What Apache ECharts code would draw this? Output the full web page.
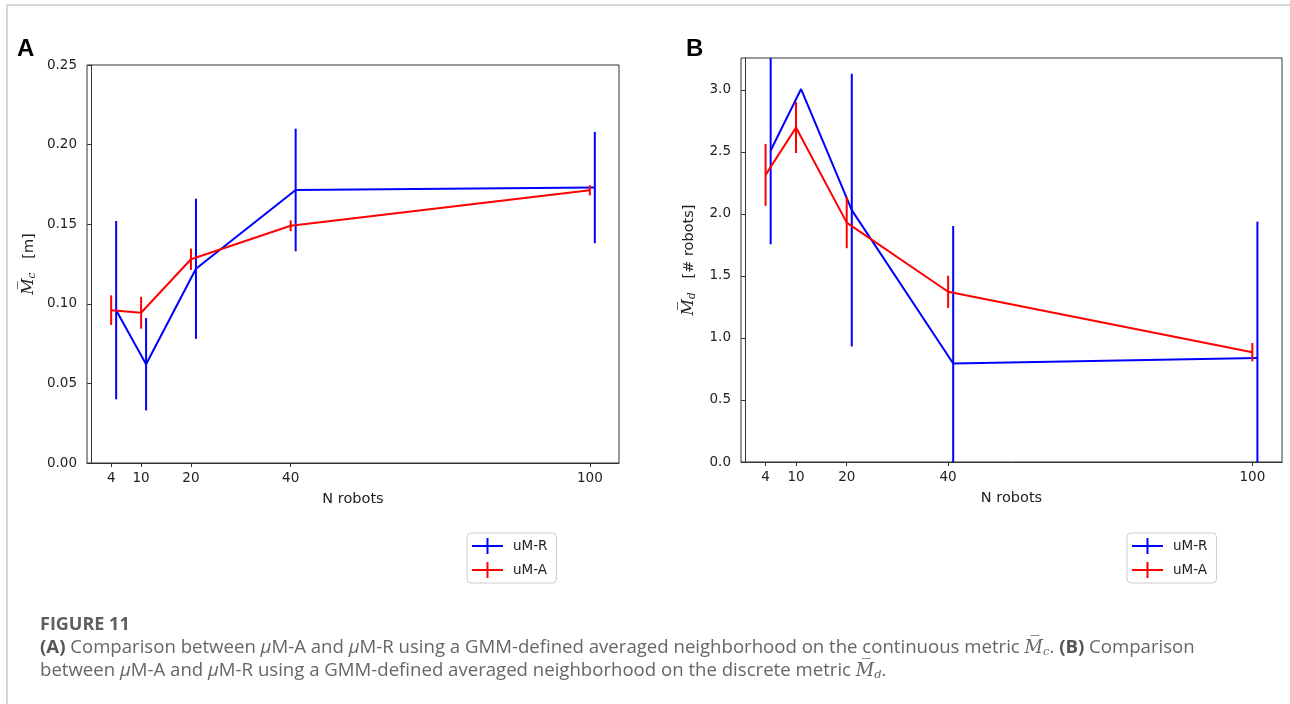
<!DOCTYPE html>
<html>
<head>
<meta charset="utf-8">
<script src="https://cdn.jsdelivr.net/npm/echarts@6/dist/echarts.min.js"></script>
<style>
html,body{margin:0;padding:0;background:#fff;}
#chart{width:1290px;height:704px;}
</style>
</head>
<body>
<div id="chart"></div>
<script>
// ---------- data ----------
const nRobots = [4, 10, 20, 40, 100];
const xTickLabels = [4, 10, 20, 40, 100];
const rOffset = 1; // uM-R points are drawn slightly right of the tick

// Panel A: continuous metric Mc [m]
const aRMean = [0.096, 0.062, 0.122, 0.1715, 0.173];
const aRErr  = [0.056, 0.029, 0.044, 0.0385, 0.035];
const aAMean = [0.096, 0.0944, 0.128, 0.149, 0.1713];
const aAErr  = [0.0093, 0.010, 0.0067, 0.0034, 0.0032];
const aYTicks = [0, 0.05, 0.10, 0.15, 0.20, 0.25];

// Panel B: discrete metric Md [# robots]
const bRMean = [2.51, 3.006, 2.03, 0.794, 0.839];
const bRErr  = [0.755, 0, 1.10, 1.108, 1.098];
const bAMean = [2.314, 2.696, 1.929, 1.372, 0.885];
const bAErr  = [0.25, 0.206, 0.206, 0.13, 0.074];
const bYTicks = [0, 0.5, 1.0, 1.5, 2.0, 2.5, 3.0];

const BLUE = '#0000ff', RED = '#ff0000';
const AX = '#333333', TXT = '#222222';
const FONT = 'DejaVu Sans';
const TICK_FS = 13.5, NAME_FS = 14.5;
const CAP_FS = 18.6;

function pts(means, off) { return means.map((m, i) => [nRobots[i] + off, m]); }
function errs(means, es, off) { return means.map((m, i) => [nRobots[i] + off, m, es[i]]); }

function errRender(color) {
  return function (params, api) {
    const x = api.value(0), m = api.value(1), e = api.value(2);
    if (!e) return null;
    const cs = params.coordSys;
    const p1 = api.coord([x, m - e]);
    const p2 = api.coord([x, m + e]);
    const yTop = cs.y, yBot = cs.y + cs.height;
    const y1 = Math.min(Math.max(p1[1], yTop), yBot);
    const y2 = Math.min(Math.max(p2[1], yTop), yBot);
    return {
      type: 'line',
      shape: { x1: p1[0], y1: y1, x2: p2[0], y2: y2 },
      style: { stroke: color, lineWidth: 2 }
    };
  };
}

const fmt = v => (v === 0 ? '0.00' : v.toFixed(2));
const fmt1 = v => v.toFixed(1);

function xAxisCfg(gi) {
  return {
    type: 'value', gridIndex: gi, min: -0.85, max: 105.85,
    name: 'N robots', nameLocation: 'middle', nameGap: 29,
    nameTextStyle: { fontFamily: FONT, fontSize: NAME_FS, color: TXT },
    axisLine: { show: true, lineStyle: { color: AX, width: 1 } },
    axisTick: { show: true, length: 4, lineStyle: { color: AX }, customValues: xTickLabels },
    axisLabel: { fontFamily: FONT, fontSize: TICK_FS, color: TXT, margin: 8, customValues: xTickLabels },
    splitLine: { show: false }
  };
}

const legendIconPath = 'path://M0,7h31v2h-31z M14.5,0h2v16h-2z';
function legendCfg(left) {
  return {
    orient: 'vertical', left: left, top: 533,
    padding: [5, 9, 5, 5], itemGap: 8, itemWidth: 31, itemHeight: 16,
    borderColor: '#cccccc', borderWidth: 1, borderRadius: 4,
    textStyle: { fontFamily: FONT, fontSize: TICK_FS, color: TXT, padding: [0, 0, 0, 5] },
    itemStyle: { borderWidth: 0 },
    selectedMode: false,
    data: [{ name: 'uM-R', icon: legendIconPath }, { name: 'uM-A', icon: legendIconPath }]
  };
}

const rich = {
  m: { fontFamily: 'DejaVu Serif', fontStyle: 'italic', fontSize: 16, color: TXT },
  s: { fontFamily: 'DejaVu Serif', fontStyle: 'italic', fontSize: 10.5, color: TXT, padding: [7, 0, 0, 0] },
  t: { fontFamily: FONT, fontSize: NAME_FS, color: TXT }
};

const capRich = {
  b: { fontFamily: 'Open Sans', fontWeight: 'bold', fontSize: CAP_FS, fill: '#555555' },
  i: { fontFamily: 'Open Sans', fontStyle: 'italic', fontSize: CAP_FS, fill: '#666666' },
  m: { fontFamily: 'DejaVu Serif', fontStyle: 'italic', fontSize: 18, fill: '#666666' },
  s: { fontFamily: 'DejaVu Serif', fontStyle: 'italic', fontSize: 11.5, fill: '#666666', padding: [8, 0, 0, 0] }
};

const option = {
  backgroundColor: '#ffffff',
  animation: false,
  grid: [
    { left: 87, top: 65, width: 532, height: 398, show: true, borderColor: AX, borderWidth: 1, backgroundColor: 'transparent' },
    { left: 741, top: 58, width: 541, height: 404, show: true, borderColor: AX, borderWidth: 1, backgroundColor: 'transparent' }
  ],
  xAxis: [xAxisCfg(0), xAxisCfg(1)],
  yAxis: [
    {
      type: 'value', gridIndex: 0, min: 0, max: 0.25, interval: 0.05,
      name: '{m|M\u0305}{s|c}{t|   [m]}', nameLocation: 'middle', nameGap: 49, nameRotate: 90,
      nameTextStyle: { rich: rich },
      axisLine: { show: true, lineStyle: { color: AX } },
      axisTick: { show: true, length: 4, lineStyle: { color: AX } },
      axisLabel: { fontFamily: FONT, fontSize: TICK_FS, color: TXT, margin: 10, formatter: fmt },
      splitLine: { show: false }
    },
    {
      type: 'value', gridIndex: 1, min: 0, max: 3.256,
      name: '{m|M\u0305}{s|d}{t|   [# robots]}', nameLocation: 'middle', nameGap: 43, nameRotate: 90,
      nameTextStyle: { rich: rich },
      axisLine: { show: true, lineStyle: { color: AX } },
      axisTick: { show: true, length: 4, lineStyle: { color: AX }, customValues: bYTicks },
      axisLabel: { fontFamily: FONT, fontSize: TICK_FS, color: TXT, margin: 10, formatter: fmt1, customValues: bYTicks },
      splitLine: { show: false }
    }
  ],
  legend: [legendCfg(467), legendCfg(1127)],
  series: [
    { name: 'uM-R', type: 'line', xAxisIndex: 0, yAxisIndex: 0, data: pts(aRMean, rOffset), symbol: 'none',
      lineStyle: { color: BLUE, width: 2 }, itemStyle: { color: BLUE }, z: 2 },
    { name: 'uM-R err', type: 'custom', xAxisIndex: 0, yAxisIndex: 0, data: errs(aRMean, aRErr, rOffset),
      renderItem: errRender(BLUE), z: 2, silent: true },
    { name: 'uM-A', type: 'line', xAxisIndex: 0, yAxisIndex: 0, data: pts(aAMean, 0), symbol: 'none',
      lineStyle: { color: RED, width: 2 }, itemStyle: { color: RED }, z: 3 },
    { name: 'uM-A err', type: 'custom', xAxisIndex: 0, yAxisIndex: 0, data: errs(aAMean, aAErr, 0),
      renderItem: errRender(RED), z: 3, silent: true },

    { name: 'uM-R', type: 'line', xAxisIndex: 1, yAxisIndex: 1, data: pts(bRMean, rOffset), symbol: 'none',
      lineStyle: { color: BLUE, width: 2 }, itemStyle: { color: BLUE }, z: 2 },
    { name: 'uM-R err', type: 'custom', xAxisIndex: 1, yAxisIndex: 1, data: errs(bRMean, bRErr, rOffset),
      renderItem: errRender(BLUE), z: 2, silent: true },
    { name: 'uM-A', type: 'line', xAxisIndex: 1, yAxisIndex: 1, data: pts(bAMean, 0), symbol: 'none',
      lineStyle: { color: RED, width: 2 }, itemStyle: { color: RED }, z: 3 },
    { name: 'uM-A err', type: 'custom', xAxisIndex: 1, yAxisIndex: 1, data: errs(bAMean, bAErr, 0),
      renderItem: errRender(RED), z: 3, silent: true }
  ],
  graphic: [
    { type: 'line', shape: { x1: 7, y1: 5, x2: 1290, y2: 5 }, style: { stroke: '#d6d6d6', lineWidth: 2 }, silent: true },
    { type: 'line', shape: { x1: 7, y1: 5, x2: 7, y2: 704 }, style: { stroke: '#d6d6d6', lineWidth: 2 }, silent: true },
    { type: 'text', x: 17, y: 49, style: { text: 'A', font: 'bold 24px "Liberation Sans"', fill: '#000', textVerticalAlign: 'middle' } },
    { type: 'text', x: 686, y: 49, style: { text: 'B', font: 'bold 24px "Liberation Sans"', fill: '#000', textVerticalAlign: 'middle' } },
    { type: 'text', x: 40, y: 625, style: { text: 'FIGURE 11', font: 'bold 18px "Open Sans"', fill: '#5e5e5e', textVerticalAlign: 'middle' } },
    { type: 'text', x: 40, y: 648, style: {
        text: '{b|(A)} Comparison between {i|\u03bc}M-A and {i|\u03bc}M-R using a GMM-defined averaged neighborhood on the continuous metric {m|M\u0305}{s|c}. {b|(B)} Comparison',
        font: CAP_FS + 'px "Open Sans"', fill: '#666666', textVerticalAlign: 'middle', rich: capRich } },
    { type: 'text', x: 40, y: 671, style: {
        text: 'between {i|\u03bc}M-A and {i|\u03bc}M-R using a GMM-defined averaged neighborhood on the discrete metric {m|M\u0305}{s|d}.',
        font: CAP_FS + 'px "Open Sans"', fill: '#666666', textVerticalAlign: 'middle', rich: capRich } }
  ]
};

const chart = echarts.init(document.getElementById('chart'), null, { renderer: 'canvas' });
chart.setOption(option);
</script>
</body>
</html>
